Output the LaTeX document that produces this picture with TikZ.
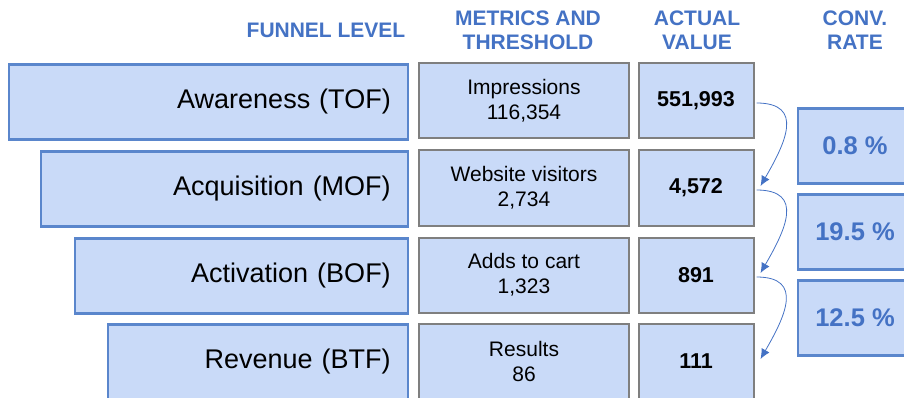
\documentclass[tikz,border=0pt]{standalone}
\usepackage{fontspec}
\setmainfont{Liberation Sans}
\usetikzlibrary{arrows.meta}

\definecolor{boxfill}{HTML}{C9DAF8}
\definecolor{boxblue}{HTML}{5A86CC}
\definecolor{headblue}{HTML}{4472C4}
\definecolor{boxgray}{HTML}{7F7F7F}

\tikzset{
  levelbox/.style={draw=boxblue, fill=boxfill, line width=2.5pt, minimum height=75pt,
    inner xsep=17pt, align=right, anchor=east, font=\fontsize{27}{32}\selectfont},
  metricbox/.style={draw=boxgray, fill=boxfill, line width=2pt, minimum width=210pt,
    minimum height=75pt, align=center, font=\fontsize{21}{25}\selectfont},
  valuebox/.style={metricbox, minimum width=115pt, font=\bfseries\fontsize{21.5}{25}\selectfont},
  ratebox/.style={draw=boxblue, fill=boxfill, line width=2.5pt, minimum width=114pt,
    minimum height=75pt, text=headblue, font=\bfseries\fontsize{25.5}{30}\selectfont},
  header/.style={text=headblue, align=center, font=\bfseries\fontsize{21}{24}\selectfont},
  ratearrow/.style={draw=headblue, line width=0.8pt, -{Latex[length=10pt,width=9pt]}},
}

\begin{document}
\begin{tikzpicture}[x=1pt,y=-1pt]
\useasboundingbox (0,0) rectangle (904,398);
\clip (0,0) rectangle (904,398);

% column headers
\node[header] (hfun) at (326,30) {FUNNEL LEVEL};
\node[header] (hmet) at (528,30) {METRICS AND\\THRESHOLD};
\node[header] (hval) at (697,30) {ACTUAL\\VALUE};
\node[header] (hconv) at (855,30) {CONV.\\RATE};

% funnel levels
\node[levelbox, text width=365pt] (aware) at (409,102) {Awareness (TOF)};
\node[levelbox, text width=333pt] (acq) at (409,189) {Acquisition (MOF)};
\node[levelbox, text width=299pt] (act) at (409,276) {Activation (BOF)};
\node[levelbox, text width=266pt] (rev) at (409,362) {Revenue (BTF)};

% metrics and threshold
\node[metricbox] (met1) at (524,101) {Impressions\\116,354};
\node[metricbox] (met2) at (524,188) {Website visitors\\2,734};
\node[metricbox] (met3) at (524,275) {Adds to cart\\1,323};
\node[metricbox] (met4) at (524,361) {Results\\86};

% actual values
\node[valuebox] (val1) at (696,101) {551,993};
\node[valuebox] (val2) at (696,188) {4,572};
\node[valuebox] (val3) at (696,275) {891};
\node[valuebox] (val4) at (696,361) {111};

% conversion rates
\node[ratebox] (conv1) at (855,146) {0.8 \%};
\node[ratebox] (conv2) at (855,232) {19.5 \%};
\node[ratebox] (conv3) at (855,318) {12.5 \%};

% arrows between values
\draw[ratearrow] ([xshift=2pt,yshift=-2pt]val1.east) to[out=0,in=60,looseness=1.5] ([xshift=6pt,yshift=2pt]val2.east);
\draw[ratearrow] ([xshift=2pt,yshift=-2pt]val2.east) to[out=0,in=60,looseness=1.5] ([xshift=6pt,yshift=2pt]val3.east);
\draw[ratearrow] ([xshift=2pt,yshift=-2pt]val3.east) to[out=0,in=60,looseness=1.5] ([xshift=6pt,yshift=2pt]val4.east);
\end{tikzpicture}
\end{document}
